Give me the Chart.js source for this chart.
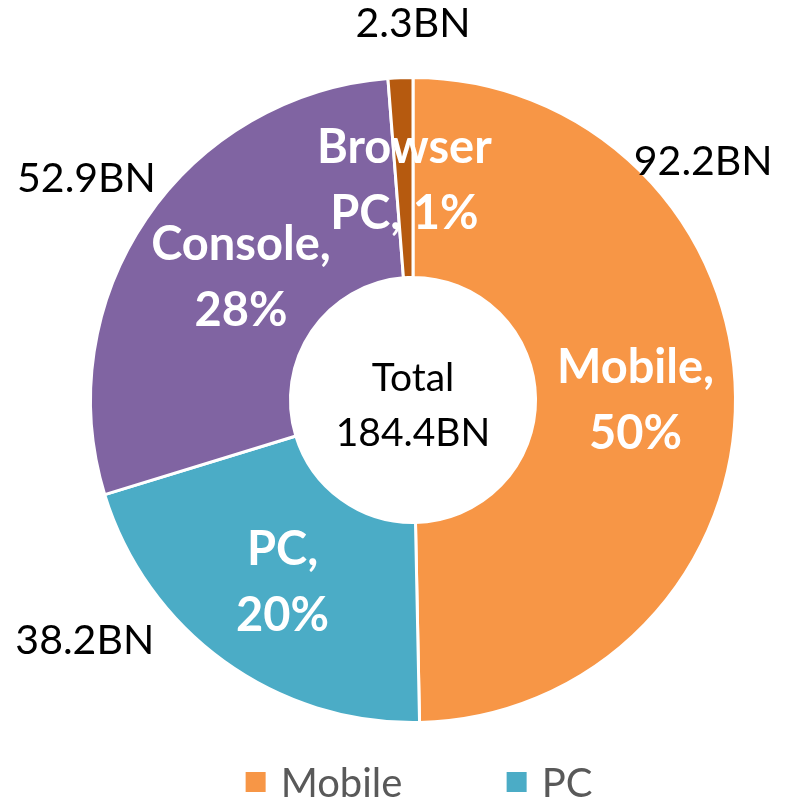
<!DOCTYPE html>
<html>
<head>
<meta charset="utf-8">
<script src="https://cdn.jsdelivr.net/npm/chart.js@4/dist/chart.umd.min.js"></script>
<style>
    html, body { margin: 0; padding: 0; background: #ffffff; overflow: hidden; }
    #wrap { width: 788px; height: 807px; position: relative; }
</style>
</head>
<body>
<div id="wrap"><canvas id="revenueChart"></canvas></div>
<script>
const categories = ['Mobile', 'PC', 'Console', 'Browser PC'];
const revenueBn = [92.2, 38.2, 52.9, 2.3];
const sharePct = [50, 20, 28, 1];
const totalText = ['Total', '184.4BN'];
const sliceColors = ['#f79646', '#4bacc6', '#8064a2', '#b65a0f'];

// where the "xx.xBN" labels sit: angle clockwise from top (deg), distance as multiple of outer radius
const valueLabelSpots = [[50.4, 1.168], [234, 1.258], [304.4, 1.227], [0, 1.174]];

const FONT = 'Lato, "Open Sans", sans-serif';

const sliceLabels = {
    id: 'sliceLabels',
    afterDatasetsDraw(chart) {
        const { ctx } = chart;
        const meta = chart.getDatasetMeta(0);
        ctx.save();
        ctx.textAlign = 'center';
        ctx.textBaseline = 'middle';

        meta.data.forEach((arc, i) => {
            // label inside the ring
            const pos = arc.tooltipPosition();
            const name = categories[i];
            let lines;
            if (name.includes(' ')) {
                const words = name.split(' ');
                lines = [words[0], words.slice(1).join(' ') + ', ' + sharePct[i] + '%'];
            } else {
                lines = [name + ',', sharePct[i] + '%'];
            }
            // Excel nudges the console label a little towards the middle of the slice
            const dx = name === 'Console' ? 12 : 0;
            ctx.fillStyle = '#ffffff';
            ctx.font = 'bold 47px ' + FONT;
            ctx.fillText(lines[0], pos.x + dx, pos.y - 33 + 3);
            ctx.fillText(lines[1], pos.x + dx, pos.y + 33 + 3);

            // value label outside
            const spot = valueLabelSpots[i];
            const a = spot[0] * Math.PI / 180;
            const r = arc.outerRadius * spot[1];
            ctx.fillStyle = '#000000';
            ctx.font = '41px ' + FONT;
            ctx.fillText(revenueBn[i] + 'BN', arc.x + Math.sin(a) * r, arc.y - Math.cos(a) * r + 2);
        });

        // centre text
        const c = meta.data[0];
        ctx.fillStyle = '#000000';
        ctx.font = '39px ' + FONT;
        ctx.fillText(totalText[0], c.x, c.y - 27 + 5);
        ctx.fillText(totalText[1], c.x, c.y + 27 + 6);
        ctx.restore();
    },
};

// Excel-like legend: fixed column spacing, second row falls below the canvas
const bottomLegend = {
    id: 'bottomLegend',
    afterDraw(chart) {
        const { ctx } = chart;
        const meta = chart.getDatasetMeta(0);
        const cx = meta.data[0].x;
        const colW = 261, perRow = 2, rowH = 52, box = 20, gap = 15;
        ctx.save();
        ctx.font = '40px ' + FONT;
        ctx.textBaseline = 'middle';
        ctx.textAlign = 'left';
        for (let r = 0; r * perRow < categories.length; r++) {
            const items = categories.slice(r * perRow, r * perRow + perRow);
            const lastW = box + gap + ctx.measureText(items[items.length - 1]).width;
            const startX = cx - (colW * (items.length - 1) + lastW) / 2 + 6;
            const y = 782 + r * rowH;
            items.forEach((name, j) => {
                const idx = r * perRow + j;
                const x = startX + j * colW;
                ctx.fillStyle = sliceColors[idx];
                ctx.fillRect(x, y - box / 2, box, box);
                ctx.fillStyle = '#595959';
                ctx.fillText(name, x + box + gap, y + 2);
            });
        }
        ctx.restore();
    },
};

new Chart(document.getElementById('revenueChart'), {
    type: 'doughnut',
    data: {
        labels: categories,
        datasets: [{
            data: revenueBn,
            backgroundColor: sliceColors,
            borderColor: '#ffffff',
            borderWidth: 3,
            hoverOffset: 0,
        }],
    },
    options: {
        responsive: true,
        maintainAspectRatio: false,
        animation: false,
        cutout: '38%',
        layout: {
            padding: { top: 76, bottom: 83, left: 38, right: 0 },
        },
        plugins: {
            legend: { display: false },
            tooltip: { enabled: false },
        },
    },
    plugins: [sliceLabels, bottomLegend],
});
</script>
</body>
</html>
